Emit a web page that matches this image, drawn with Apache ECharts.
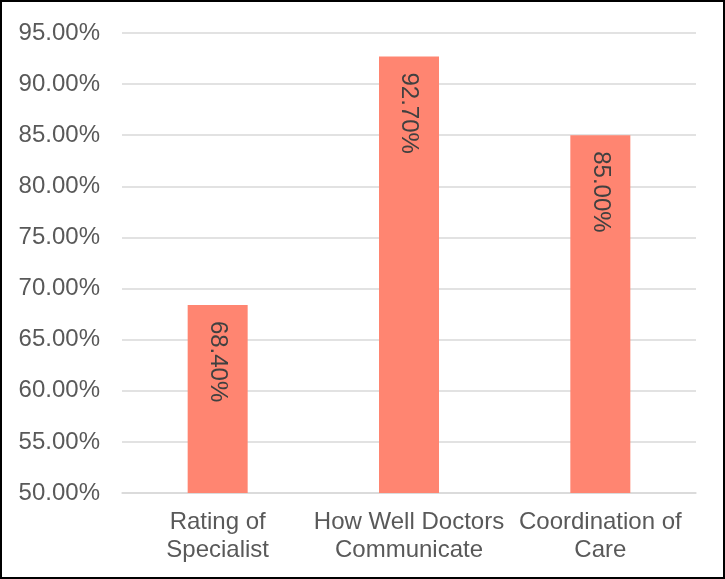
<!DOCTYPE html>
<html>
<head>
<meta charset="utf-8">
<script src="https://cdn.jsdelivr.net/npm/echarts@6/dist/echarts.min.js"></script>
<style>
  html, body { margin: 0; padding: 0; background: #fff; }
  #frame { width: 725px; height: 579px; box-sizing: border-box; border: 2px solid #000; position: relative; }
  #chart { position: absolute; left: -2px; top: -2px; width: 725px; height: 579px; }
</style>
</head>
<body>
<div id="frame"><div id="chart"></div></div>
<script>
// Survey measures and their scores (percent)
const categories = ['Rating of\nSpecialist', 'How Well Doctors\nCommunicate', 'Coordination of\nCare'];
const scores = [68.4, 92.7, 85.0];
const axisMin = 50;
const axisMax = 95;
const axisStep = 5;

const chart = echarts.init(document.getElementById('chart'), null, { renderer: 'canvas' });
chart.setOption({
  animation: false,
  textStyle: { fontFamily: '"Liberation Sans", Arial, sans-serif' },
  grid: { left: 122, right: 29, top: 33, bottom: 86 },
  xAxis: {
    type: 'category',
    data: categories,
    axisTick: { show: false },
    axisLine: { lineStyle: { color: '#D9D9D9', width: 1.5 } },
    axisLabel: { color: '#595959', fontSize: 24, lineHeight: 28, margin: 15, interval: 0 }
  },
  yAxis: {
    type: 'value',
    min: axisMin,
    max: axisMax,
    interval: axisStep,
    axisLine: { show: false },
    axisTick: { show: false },
    splitLine: { lineStyle: { color: '#D9D9D9', width: 1.5 } },
    axisLabel: {
      color: '#595959', fontSize: 24, margin: 22,
      formatter: v => v.toFixed(2) + '%'
    }
  },
  series: [{
    type: 'bar',
    data: scores,
    barWidth: 60,
    itemStyle: { color: '#FF8571' },
    label: {
      show: true,
      position: 'insideTop',
      distance: 16,
      rotate: -90,
      align: 'left',
      verticalAlign: 'middle',
      color: '#404040',
      fontSize: 24,
      formatter: p => p.value.toFixed(2) + '%'
    }
  }]
});
</script>
</body>
</html>
